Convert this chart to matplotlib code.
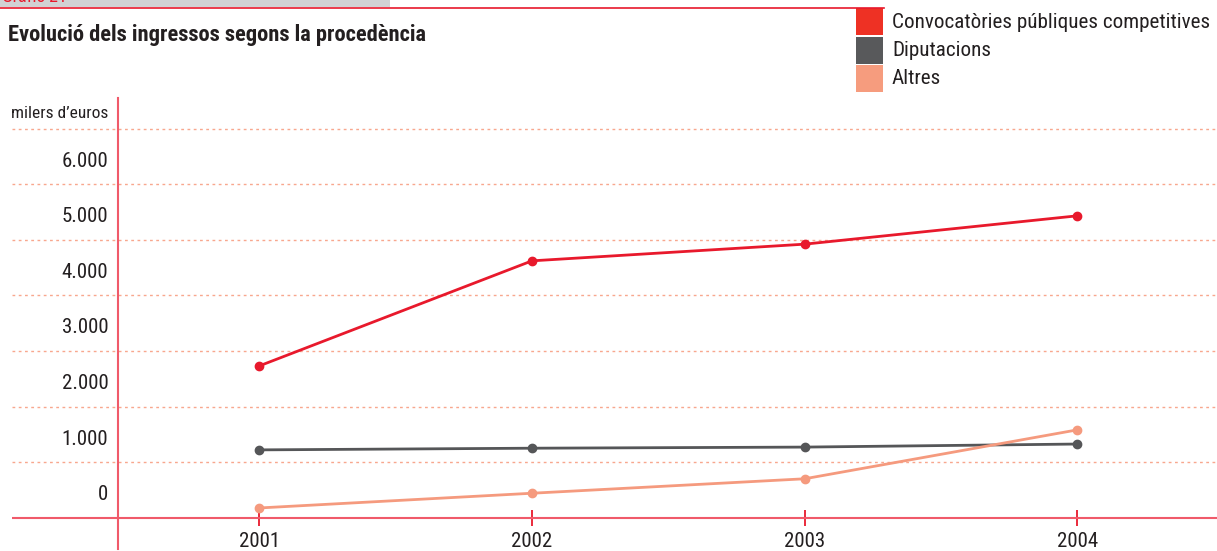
import numpy as np
import matplotlib
matplotlib.use('Agg')
import matplotlib.pyplot as plt
from matplotlib.patches import Rectangle

# DADES (milers d'euros)
anys = [2001, 2002, 2003, 2004]
convocatories = [2730, 4620, 4920, 5430]
diputacions = [1220, 1250, 1270, 1325]
altres = [175, 440, 700, 1580]
series_noms = ['Convocatòries públiques competitives', 'Diputacions', 'Altres']
y_labels = ['0', '1.000', '2.000', '3.000', '4.000', '5.000', '6.000']

plt.rcParams['font.family'] = ['Roboto Condensed', 'Lato', 'DejaVu Sans']

W, H = 1217, 551
fig = plt.figure(figsize=(W / 100, H / 100), dpi=100)

vermell = '#e8192c'
gris = '#555658'
salmo = '#f59a7e'
eix = '#f05a6a'
graella = '#f8a78e'
text_c = '#231f20'

# capcalera
fig.patches.append(Rectangle((0, 1 - 7 / H), 390 / W, 7 / H, transform=fig.transFigure,
                             facecolor='#d1d2d4', edgecolor='none'))
fig.text(2 / W, 1 - 6 / H, 'Gràfic 21', color=vermell, fontsize=13, va='bottom', ha='left')
fig.add_artist(plt.Line2D([0, 884 / W], [1 - 7.5 / H, 1 - 7.5 / H], transform=fig.transFigure,
                          color=vermell, lw=1.2))
fig.text(8 / W, 1 - 35 / H, 'Evolució dels ingressos segons la procedència', fontsize=16.2,
         fontweight='bold', color=text_c, va='center', ha='left')

# llegenda
leg_cols = ['#ee3124', '#58595b', '#f69c7e']
leg_y = [(8, 35), (37, 63.5), (65, 92)]
leg_tc = [23, 50, 78]
for c, (y0, y1), yc, nom in zip(leg_cols, leg_y, leg_tc, series_noms):
    fig.patches.append(Rectangle((856 / W, 1 - y1 / H), 27 / W, (y1 - y0) / H,
                                 transform=fig.transFigure, facecolor=c, edgecolor='none'))
    fig.text(892 / W, 1 - yc / H, nom, fontsize=15.2, color=text_c, va='center', ha='left')

# eixos
ax = fig.add_axes([118 / W, 1 - 549 / H, 1 - 118 / W, (549 - 98) / H])
x_left = 2000.093
ax.set_xlim(2000.482, 2004.512)
ax.set_ylim(-563, 7549)
for s in ['top', 'right']:
    ax.spines[s].set_visible(False)
ax.spines['left'].set_color(eix)
ax.spines['left'].set_linewidth(1.5)
ax.spines['bottom'].set_position(('data', 0))
ax.spines['bottom'].set_color(eix)
ax.spines['bottom'].set_linewidth(1.5)

ax.hlines(np.arange(1000, 8000, 1000), x_left, 2004.512, colors=graella, linestyles=(0, (2, 2.5)),
          lw=1, clip_on=False, zorder=1)
ax.hlines([0], x_left, 2000.482, colors=eix, lw=1.5, clip_on=False)

ax.set_yticks(np.arange(len(y_labels)) * 1000 + 450)
ax.set_yticklabels(y_labels)
ax.tick_params(axis='y', length=0, pad=7, labelsize=15, labelcolor=text_c)
ax.set_xticks(anys)
ax.set_xticklabels([str(a) for a in anys])
ax.tick_params(axis='x', direction='inout', length=12, width=1.3, color=vermell, pad=4,
               labelsize=15, labelcolor=text_c)

fig.text(108 / W, 1 - 113 / H, 'milers d’euros', fontsize=12.5, color=text_c, ha='right', va='center')

ax.plot(anys, convocatories, color=vermell, lw=2, marker='o', ms=6, zorder=5, clip_on=False)
ax.plot(anys, diputacions, color=gris, lw=2, marker='o', ms=6, zorder=5, clip_on=False)
ax.plot(anys, altres, color=salmo, lw=2, marker='o', ms=6, zorder=5, clip_on=False)

fig.savefig('out.png', dpi=100)
